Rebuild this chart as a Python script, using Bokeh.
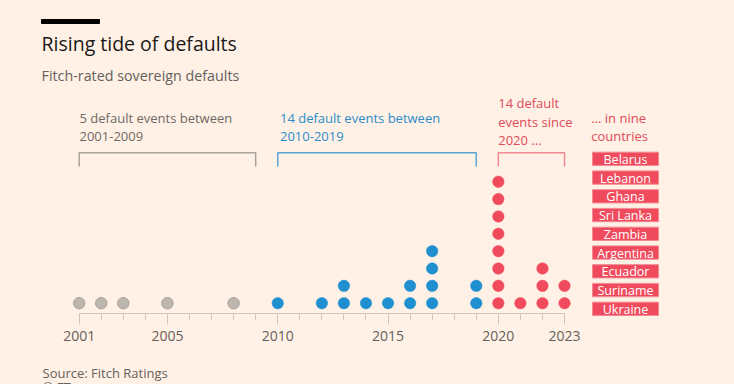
from bokeh.plotting import figure
from bokeh.models import Range1d, LinearAxis, FixedTicker
from bokeh.core.properties import value
from bokeh.embed import file_html
from bokeh.resources import INLINE

# ---- data ----
gray_years = [2001, 2002, 2003, 2005, 2008]
gray_counts = [1, 1, 1, 1, 1]
blue_years = [2010, 2012, 2013, 2014, 2015, 2016, 2017, 2019]
blue_counts = [1, 1, 2, 1, 1, 2, 4, 2]
red_years = [2020, 2021, 2022, 2023]
red_counts = [8, 1, 3, 2]
countries = ["Belarus", "Lebanon", "Ghana", "Sri Lanka", "Zambia",
             "Argentina", "Ecuador", "Suriname", "Ukraine"]
major_ticks = [2001, 2005, 2010, 2015, 2020, 2023]
minor_ticks = list(range(2001, 2024))

BG = "#fff1e5"
FONT = "Open Sans"
W, H = 734, 384

p = figure(width=W, height=H, output_backend="svg", toolbar_location=None,
           x_range=Range1d(1997.4325, 2030.705), y_range=Range1d(-3.686, 18.447),
           x_axis_location=None, y_axis_location=None,
           min_border_left=0, min_border_right=0, min_border_top=0,
           min_border_bottom=0)
p.background_fill_color = BG
p.border_fill_color = BG
p.outline_line_color = None
p.grid.visible = False
p.extra_x_ranges = {"px": Range1d(0, W)}
p.extra_y_ranges = {"px": Range1d(H, 0)}


def stack(years, counts):
    xs, ys = [], []
    for yr, c in zip(years, counts):
        for k in range(1, c + 1):
            xs.append(yr)
            ys.append(k)
    return xs, ys


# axis (drawn inside the frame at a fixed location just under the dots)
ax = LinearAxis(ticker=FixedTicker(ticks=major_ticks, minor_ticks=minor_ticks),
                bounds=(2001, 2023), fixed_location=0.424)
ax.axis_line_color = "#cfc5bc"
ax.major_tick_line_color = "#cfc5bc"
ax.minor_tick_line_color = "#cfc5bc"
ax.major_tick_in = 0
ax.major_tick_out = 11
ax.minor_tick_in = 0
ax.minor_tick_out = 7
ax.major_label_standoff = 7
ax.major_label_text_font = FONT
ax.major_label_text_font_size = "14px"
ax.major_label_text_color = "#66605c"
p.add_layout(ax, "below")

gx, gy = stack(gray_years, gray_counts)
bx, by = stack(blue_years, blue_counts)
rx, ry = stack(red_years, red_counts)
p.scatter(gx, gy, size=11.5, fill_color="#bdb6ae", line_color="#aaa39c", line_width=1)
p.scatter(bx, by, size=11.5, fill_color="#1f8fd0", line_color="#1f8fd0", line_width=0.5)
p.scatter(rx, ry, size=11.5, fill_color="#f04b5d", line_color="#f04b5d", line_width=0.5)

# header bar
p.quad(left=[41], right=[99], top=[19], bottom=[23], color="#000000",
       x_range_name="px", y_range_name="px")


def txt(x, y, s, size, color, align="left"):
    p.text(x=x, y=y, text=s, text_font=value(FONT), text_font_size=size,
           text_color=color, text_align=align, text_baseline="middle",
           x_range_name="px", y_range_name="px")


txt([41], [42.5], ["Rising tide of defaults"], "19.5px", "#1a1817")
txt([41], [74.5], ["Fitch-rated sovereign defaults"], "14.3px", "#66605c")

txt([79, 79], [117, 135.5], ["5 default events between", "2001-2009"], "13px", "#6f6965")
txt([279.5, 279.5], [117, 135.5], ["14 default events between", "2010-2019"], "13px", "#2a8dc9")
txt([497.7] * 3, [102.5, 121, 139.5], ["14 default", "events since", "2020 ..."], "13px", "#e04b5a")
txt([590.7, 590.7], [117, 135.5], ["... in nine", "countries"], "13px", "#e04b5a")

# brackets (x in years, y in px)
br_start = [2001, 2010, 2020]
br_end = [2009, 2019, 2023]
br_col = ["#a9a39d", "#5aa6d6", "#f48893"]
for a, b, c in zip(br_start, br_end, br_col):
    p.line(x=[a, a, b, b], y=[166, 152.3, 152.3, 166], line_color=c, line_width=1.5,
           y_range_name="px")

# country boxes
cy = [158.3 + 18.75 * i for i in range(len(countries))]
p.rect(x=[625] * len(countries), y=cy, width=66, height=13.3,
       fill_color="#f04b5d", line_color="#f58a95", line_width=1,
       x_range_name="px", y_range_name="px")
txt([625] * len(countries), [v + 0.5 for v in cy], countries, "12.5px", "#ffffff",
    align="center")

# footer
txt([42], [372], ["Source: Fitch Ratings"], "13px", "#66605c")
txt([42], [386], ["© FT"], "13px", "#66605c")

html = file_html(p, INLINE)
html = html.replace("<body>", '<body style="background-color:#fff1e5;">')
open("out.html", "w").write(html)
